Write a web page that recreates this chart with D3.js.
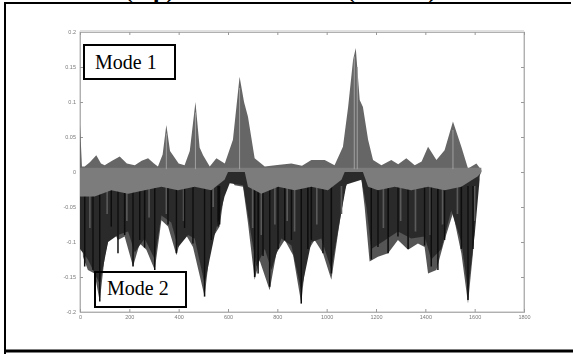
<!DOCTYPE html>
<html><head><meta charset="utf-8">
<script src="https://cdn.jsdelivr.net/npm/d3@7/dist/d3.min.js"></script>
<style>
html,body{margin:0;padding:0;background:#fff;}
svg{display:block;}
</style></head>
<body>
<svg id="chart" width="573" height="354"></svg>
<script>
// ---- data ----
const xTicks = [0,200,400,600,800,1000,1200,1400,1600,1800];
const yTicks = [0.2,0.15,0.1,0.05,0,-0.05,-0.1,-0.15,-0.2];
const yTickLabels = ["0.2","0.15","0.1","0.05","0","-0.05","-0.1","-0.15","-0.2"];

// Mode 1: upper envelope of the overlaid shapes
const mode1X = [0,8,19,40,66,85,100,130,161,190,222,250,276,300,316,335,350,365,377,400,424,445,468,485,499,526,553,587,620,647,665,681,708,749,800,857,900,938,992,1032,1066,1087,1107,1118,1134,1147,1168,1188,1222,1262,1290,1323,1357,1385,1411,1445,1478,1512,1546,1573,1607,1627];
const mode1Y = [0.067,0.008,0.008,0.014,0.024,0.012,0.0095,0.016,0.022,0.012,0.0095,0.016,0.0195,0.012,0.008,0.025,0.067,0.030,0.024,0.012,0.0095,0.030,0.100,0.035,0.024,0.008,0.0195,0.012,0.046,0.136,0.100,0.079,0.0195,0.008,0.010,0.012,0.009,0.017,0.017,0.0095,0.036,0.093,0.160,0.177,0.103,0.093,0.046,0.017,0.0095,0.017,0.011,0.0195,0.0095,0.015,0.036,0.017,0.031,0.072,0.036,0.005,0.012,0.003];

// Mode 2: lower envelope (outer, lighter fringe)
const mode2X = [0,12,32,59,80,100,127,154,181,215,242,269,303,330,357,391,418,458,505,532,566,593,607,627,661,681,708,728,769,796,830,864,897,918,951,985,1019,1046,1073,1093,1114,1141,1154,1174,1208,1249,1289,1330,1370,1397,1411,1445,1478,1512,1546,1573,1593,1613,1627];
const mode2Y = [-0.011,-0.121,-0.140,-0.145,-0.185,-0.121,-0.078,-0.097,-0.092,-0.135,-0.102,-0.111,-0.140,-0.069,-0.078,-0.119,-0.083,-0.107,-0.178,-0.097,-0.078,-0.011,-0.007,-0.019,-0.021,-0.073,-0.154,-0.126,-0.169,-0.116,-0.097,-0.119,-0.188,-0.116,-0.097,-0.116,-0.154,-0.088,-0.026,-0.007,-0.004,-0.011,-0.050,-0.128,-0.121,-0.116,-0.097,-0.111,-0.102,-0.107,-0.145,-0.140,-0.097,-0.059,-0.116,-0.188,-0.116,-0.011,0.000];

// Mode 2: dark core of the overlaid shapes
const coreX = [0,32,80,114,154,195,222,262,303,330,370,397,438,465,505,546,586,607,661,681,715,749,776,816,857,897,938,978,1019,1053,1080,1141,1161,1181,1235,1289,1343,1397,1424,1465,1505,1546,1573,1600,1620];
const coreY = [-0.110,-0.125,-0.160,-0.100,-0.090,-0.085,-0.115,-0.095,-0.125,-0.062,-0.072,-0.108,-0.090,-0.095,-0.160,-0.090,-0.035,-0.016,-0.019,-0.062,-0.135,-0.110,-0.140,-0.095,-0.105,-0.170,-0.100,-0.095,-0.140,-0.070,-0.018,-0.011,-0.050,-0.110,-0.098,-0.085,-0.095,-0.092,-0.125,-0.110,-0.055,-0.100,-0.170,-0.090,-0.011];

// near-zero grey band (lower edge)
const bandX = [0,59,127,195,262,330,397,465,532,586,600,668,681,735,803,870,938,1005,1060,1073,1147,1168,1208,1276,1343,1411,1478,1546,1613,1627];
const bandY = [-0.035,-0.035,-0.026,-0.031,-0.026,-0.021,-0.026,-0.021,-0.026,-0.011,0.0,0.0,-0.021,-0.031,-0.021,-0.026,-0.021,-0.026,-0.011,0.0,0.0,-0.021,-0.026,-0.021,-0.026,-0.021,-0.026,-0.021,-0.006,0.0];
const bandTop = 0.006;

// black streaks (deepest individual shapes)
const streakX = [19,53,80,127,154,181,215,242,262,303,357,391,424,458,505,532,560,566,708,722,742,769,803,830,857,897,924,938,985,1019,1181,1208,1249,1289,1330,1397,1424,1451,1478,1546,1573,1593];
const streakY = [-0.135,-0.140,-0.185,-0.078,-0.116,-0.090,-0.135,-0.097,-0.108,-0.140,-0.075,-0.116,-0.080,-0.102,-0.178,-0.097,-0.078,-0.075,-0.150,-0.145,-0.120,-0.164,-0.110,-0.097,-0.097,-0.188,-0.110,-0.097,-0.116,-0.145,-0.125,-0.107,-0.116,-0.092,-0.110,-0.105,-0.135,-0.140,-0.097,-0.110,-0.183,-0.110];

// mid-grey streaks inside the dark core
const greyX = [40,110,190,280,350,420,540,700,735,790,840,870,960,1060,1230,1300,1360,1420,1470,1530,1600];
const greyY = [-0.080,-0.060,-0.070,-0.065,-0.060,-0.070,-0.050,-0.080,-0.090,-0.075,-0.070,-0.085,-0.075,-0.060,-0.080,-0.070,-0.085,-0.090,-0.075,-0.060,-0.070];

// light streaks inside the peaks
const lightX = [350,468,647,1112,1124,1512];
const lightY = [0.055,0.085,0.120,0.165,0.150,0.060];

// ---- drawing ----
const svg = d3.select("#chart");
const x = d3.scaleLinear().domain([0,1800]).range([80,524]);
const y = d3.scaleLinear().domain([-0.2,0.2]).range([312,32]);

const defs = svg.append("defs");
defs.append("filter").attr("id","soft").append("feGaussianBlur").attr("stdDeviation",0.75);
defs.append("filter").attr("id","softtext").append("feGaussianBlur").attr("stdDeviation",0.35);

// outer frame (left, top, bottom)
svg.append("path").attr("d","M5,354 L5,3 L571,3").attr("fill","none").attr("stroke","#000").attr("stroke-width",2);
svg.append("line").attr("x1",4).attr("x2",573).attr("y1",351).attr("y2",351).attr("stroke","#000").attr("stroke-width",3);

// cropped title (only its lower edge shows, as in the reference)
const title = svg.append("text").attr("y",-2.5).attr("font-family","Liberation Serif, Times New Roman, serif")
  .attr("font-weight","bold").attr("font-size",24).attr("fill","#000");
title.append("tspan").attr("x",125).text("(top)");
title.append("tspan").attr("x",185).text(" versus Mode 2 ");
title.append("tspan").attr("x",347).text("(bottom)");

// axes box
const axisG = svg.append("g").attr("font-family","Liberation Sans, Arial, sans-serif");
axisG.append("rect").attr("x",80).attr("y",32).attr("width",444).attr("height",280)
  .attr("fill","none").attr("stroke","#b8b8b8").attr("stroke-width",1);
axisG.append("line").attr("x1",80).attr("x2",524).attr("y1",31).attr("y2",31).attr("stroke","#e0e0e0").attr("stroke-width",2);

const fmtY = d => yTickLabels[yTicks.indexOf(d)];
const axLeft = axisG.append("g").attr("transform","translate(80,0)")
  .call(d3.axisLeft(y).tickValues(yTicks).tickSize(-3).tickPadding(4).tickFormat(fmtY));
const axRight = axisG.append("g").attr("transform","translate(524,0)")
  .call(d3.axisRight(y).tickValues(yTicks).tickSize(-3).tickFormat(""));
const axBottom = axisG.append("g").attr("transform","translate(0,312)")
  .call(d3.axisBottom(x).tickValues(xTicks).tickSize(-3).tickPadding(3).tickFormat(d3.format("d")));
const axTop = axisG.append("g").attr("transform","translate(0,32)")
  .call(d3.axisTop(x).tickValues(xTicks).tickSize(-3).tickFormat(""));
[axLeft,axRight,axBottom,axTop].forEach(g=>{
  g.select(".domain").attr("stroke","#b0b0b0");
  g.selectAll(".tick line").attr("stroke","#999");
  g.selectAll("text").attr("font-size",5.5).attr("fill","#7a7a7a").attr("filter","url(#softtext)")
    .attr("font-family","Liberation Sans, Arial, sans-serif");
});

// data layers
const plot = svg.append("g").attr("filter","url(#soft)");
const zip = (xs,ys)=>xs.map((v,i)=>[v,ys[i]]);

const areaFromZero = d3.area().x(d=>x(d[0])).y0(y(0)).y1(d=>y(d[1]));

plot.append("path").datum(zip(mode2X,mode2Y)).attr("d",areaFromZero).attr("fill","#555");
plot.append("path").datum(zip(coreX,coreY)).attr("d",areaFromZero).attr("fill","#2c2c2c");

plot.selectAll("line.grey").data(zip(greyX,greyY)).join("line").attr("class","grey")
  .attr("x1",d=>x(d[0])).attr("x2",d=>x(d[0])).attr("y1",y(-0.02)).attr("y2",d=>y(d[1]))
  .attr("stroke","#5a5a5a").attr("stroke-width",1.6);

plot.selectAll("line.streak").data(zip(streakX,streakY)).join("line").attr("class","streak")
  .attr("x1",d=>x(d[0])).attr("x2",d=>x(d[0])).attr("y1",y(-0.02)).attr("y2",d=>y(d[1]))
  .attr("stroke","#0d0d0d").attr("stroke-width",1.5);

plot.append("path").datum(zip(mode1X,mode1Y)).attr("d",areaFromZero).attr("fill","#666");

const bandArea = d3.area().x(d=>x(d[0])).y0(y(bandTop)).y1(d=>y(d[1]));
plot.append("path").datum(zip(bandX,bandY)).attr("d",bandArea).attr("fill","#7c7c7c");

plot.selectAll("line.light").data(zip(lightX,lightY)).join("line").attr("class","light")
  .attr("x1",d=>x(d[0])).attr("x2",d=>x(d[0])).attr("y1",y(0.004)).attr("y2",d=>y(d[1]))
  .attr("stroke","#a0a0a0").attr("stroke-width",1);

// label boxes
function labelBox(x0,y0,w,h,tx,ty,txt,fill){
  svg.append("rect").attr("x",x0).attr("y",y0).attr("width",w).attr("height",h)
    .attr("fill",fill).attr("stroke","#000").attr("stroke-width",2);
  svg.append("text").attr("x",tx).attr("y",ty).text(txt)
    .attr("font-family","Liberation Serif, Times New Roman, serif").attr("font-size",20).attr("fill","#000");
}
labelBox(84,45,91,34,95,69,"Mode 1","#fff");
labelBox(95,272,91,35,107,295,"Mode 2","none");
</script>
</body></html>
